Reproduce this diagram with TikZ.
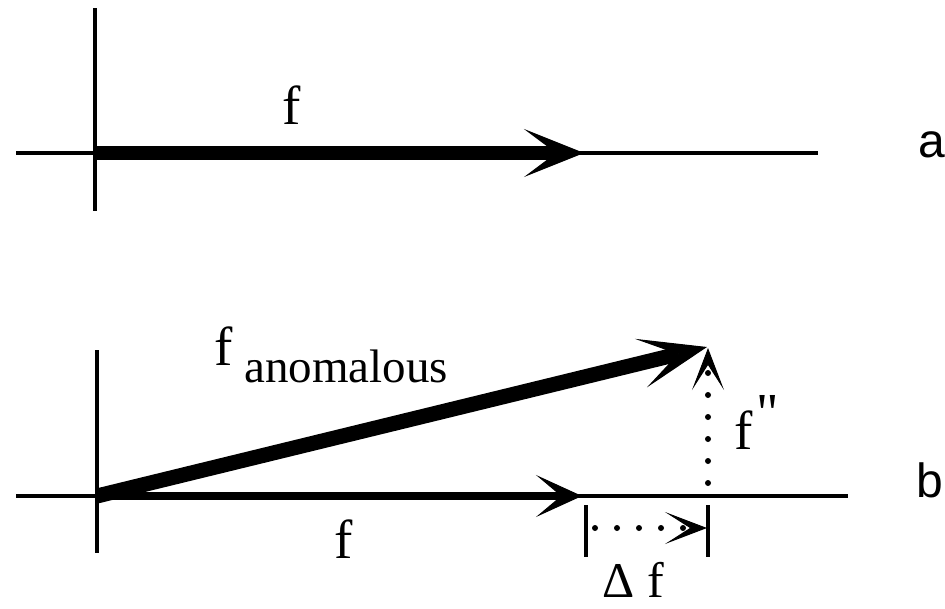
\documentclass[tikz,border=0pt]{standalone}
\usepackage{fontspec}
\setmainfont{Liberation Serif}
\newfontfamily\labfont{Liberation Sans}
\newfontfamily\rawserif[Ligatures=TeXOff]{Liberation Serif}
\usetikzlibrary{arrows.meta}
\begin{document}
\begin{tikzpicture}[x=1pt,y=-1pt,
  axisline/.style={line width=3.4pt, line cap=butt},
  bigvec/.style={line width=14pt, -{Stealth[length=60pt,width=48pt,inset=32pt,line width=1pt]}},
  anomvec/.style={line width=15pt, -{Stealth[length=68pt,width=50pt,inset=38pt,line width=1pt]}},
  fvec/.style={line width=8pt, -{Stealth[length=46pt,width=42pt,inset=25pt,line width=1pt]}},
  dotvec/.style={line width=6pt, line cap=round, dash pattern=on 0pt off 22pt,
     -{Stealth[length=42pt,width=32pt,inset=25pt,line width=1pt]}},
  tickline/.style={line width=3.2pt},
  lbl/.style={inner sep=0pt, outer sep=0pt, anchor=base west, font=\fontsize{55}{60}\selectfont},
  panel/.style={inner sep=0pt, outer sep=0pt, anchor=base west, font=\labfont\fontsize{48}{54}\selectfont}
]
\useasboundingbox (0,0) rectangle (945,608);
% ---- panel a ----
\coordinate (aL) at (16,153);
\coordinate (aR) at (818,153);
\coordinate (aT) at (95,8);
\coordinate (aB) at (95,211);
\coordinate (aO) at (95,153);
\coordinate (aTip) at (584,153);
\draw[axisline] (aL) -- (aR);
\draw[axisline] (aT) -- (aB);
\draw[bigvec] (aO) -- (aTip);
\node[lbl] (fa) at (282,124) {f};
\node[panel] (la) at (918,157) {a};
% ---- panel b ----
\coordinate (bL) at (16,496);
\coordinate (bR) at (848,496);
\coordinate (bT) at (97,350);
\coordinate (bB) at (97,553);
\coordinate (bO) at (97,496);
\coordinate (bTip) at (582,496);
\coordinate (anTip) at (707,347);
\coordinate (ppFoot) at (708,483);
\coordinate (ppTip) at (708,348);
\coordinate (t1T) at (586,505);
\coordinate (t1B) at (586,557);
\coordinate (t2T) at (708,505);
\coordinate (t2B) at (708,557);
\coordinate (dS) at (595,528);
\coordinate (dE) at (707,528);
\draw[axisline] (bL) -- (bR);
\draw[axisline] (bT) -- (bB);
\draw[fvec] (bO) -- (bTip);
\draw[anomvec] (bO) -- (anTip);
\draw[dotvec] (ppFoot) -- (ppTip);
\draw[tickline] (t1T) -- (t1B);
\draw[tickline] (t2T) -- (t2B);
\draw[dotvec] (dS) -- (dE);
\node[lbl] (fanom) at (214,365) {f\hspace{12pt}\raisebox{-17pt}{\fontsize{47}{50}\selectfont anomalous}};
\node[lbl] (fb) at (334,558) {f};
\node[lbl] (fpp) at (734,449) {f\hspace{4pt}\raisebox{18pt}{\rawserif\symbol{34}}};
\node[lbl, font=\fontsize{50}{54}\selectfont] (df) at (602,597) {Δ\hspace{13pt}f};
\node[panel] (lb) at (916,497) {b};
\end{tikzpicture}
\end{document}
